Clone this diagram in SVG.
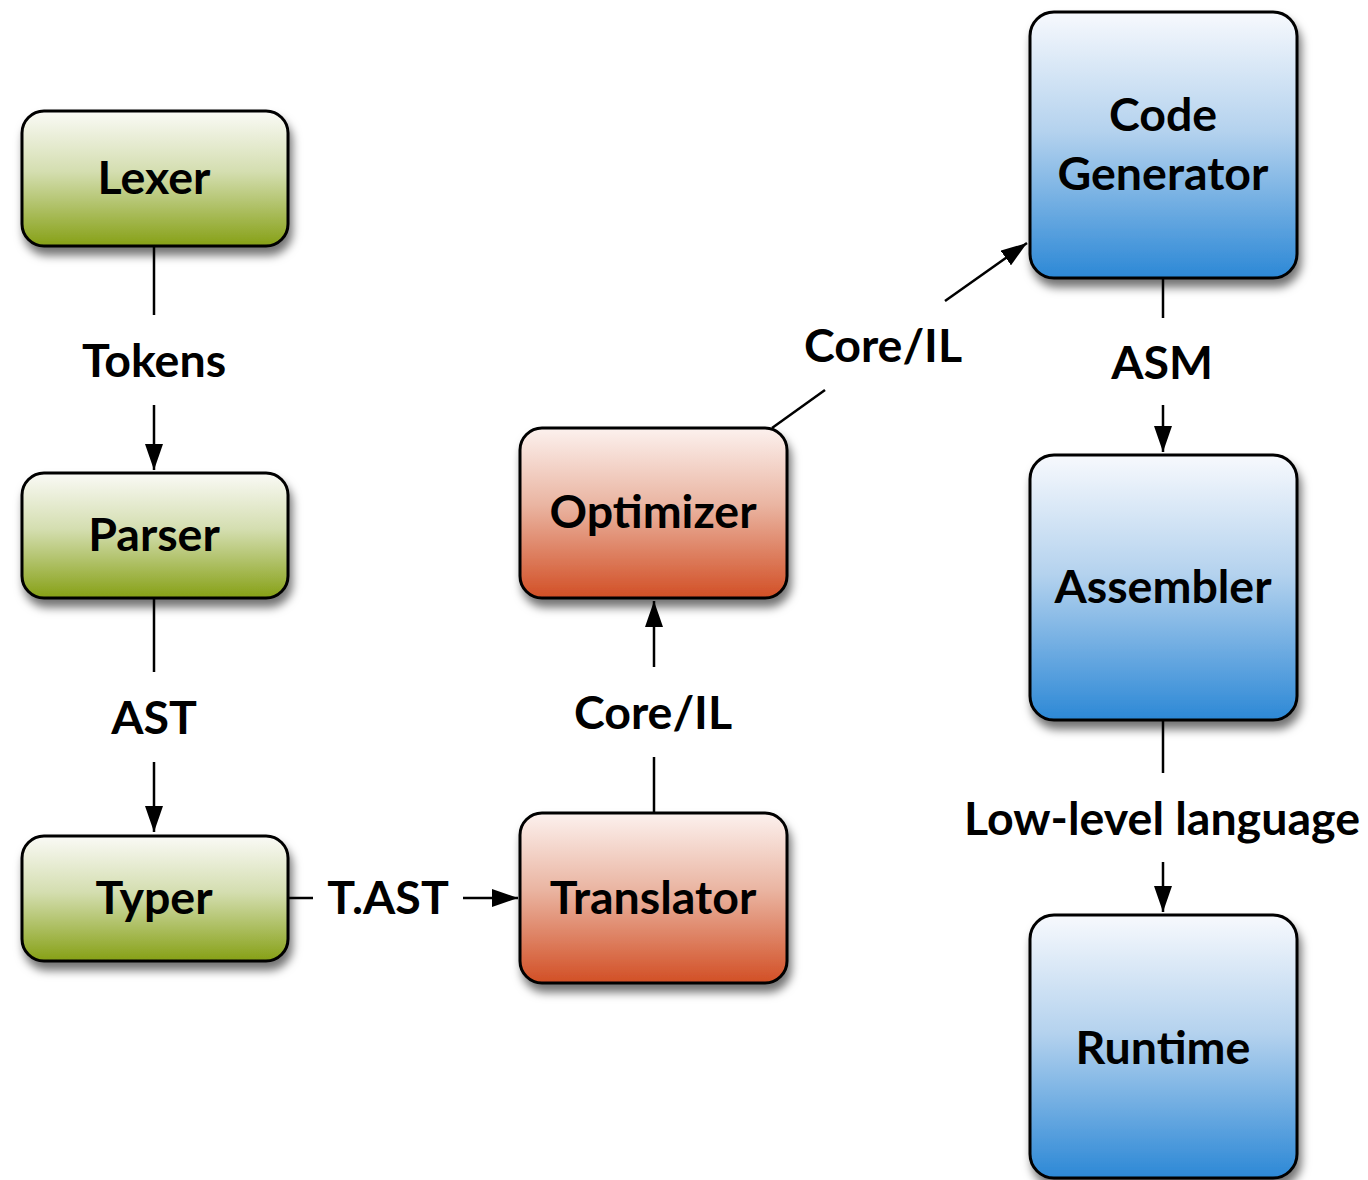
<svg xmlns="http://www.w3.org/2000/svg" width="1368" height="1180" viewBox="0 0 1368 1180">
<style>
.box{stroke:#000;stroke-width:3}
.t{font-family:Lato,"Open Sans","Noto Sans",sans-serif;font-weight:bold;font-size:46.5px;fill:#000;text-anchor:middle}
.c{stroke:#000;stroke-width:2.5;fill:none}
</style>
<defs>
<linearGradient id="gG" x1="0" y1="0" x2="0" y2="1"><stop offset="0" stop-color="#fafaf6"/><stop offset="0.45" stop-color="#d4deb0"/><stop offset="1" stop-color="#86a015"/></linearGradient>
<linearGradient id="gR" x1="0" y1="0" x2="0" y2="1"><stop offset="0" stop-color="#fcf1ee"/><stop offset="0.45" stop-color="#eab5a2"/><stop offset="1" stop-color="#d24f25"/></linearGradient>
<linearGradient id="gB" x1="0" y1="0" x2="0" y2="1"><stop offset="0" stop-color="#f7f9fd"/><stop offset="0.45" stop-color="#b4d2ee"/><stop offset="1" stop-color="#2c88d6"/></linearGradient>
<filter id="sh" x="-20%" y="-20%" width="140%" height="150%"><feDropShadow dx="3" dy="8" stdDeviation="5" flood-color="#000" flood-opacity="0.55"/></filter>
<marker id="ah" viewBox="0 0 26 18" refX="26" refY="9" markerWidth="26" markerHeight="18" markerUnits="userSpaceOnUse" orient="auto"><path d="M0,0 L26,9 L0,18 z" fill="#000"/></marker>
</defs>
<rect width="1368" height="1180" fill="#fff"/>
<g id="connectors">
<line class="c" x1="154" y1="246" x2="154" y2="315"/>
<line class="c" x1="154" y1="405" x2="154" y2="470" marker-end="url(#ah)"/>
<line class="c" x1="154" y1="598" x2="154" y2="672"/>
<line class="c" x1="154" y1="762" x2="154" y2="832" marker-end="url(#ah)"/>
<line class="c" x1="288" y1="898" x2="313" y2="898"/>
<line class="c" x1="463" y1="898" x2="518" y2="898" marker-end="url(#ah)"/>
<line class="c" x1="654" y1="813" x2="654" y2="757"/>
<line class="c" x1="654" y1="667" x2="654" y2="601" marker-end="url(#ah)"/>
<line class="c" x1="772" y1="428" x2="825" y2="390"/>
<line class="c" x1="945" y1="301" x2="1027" y2="243" marker-end="url(#ah)"/>
<line class="c" x1="1163" y1="278" x2="1163" y2="318"/>
<line class="c" x1="1163" y1="405" x2="1163" y2="452" marker-end="url(#ah)"/>
<line class="c" x1="1163" y1="720" x2="1163" y2="773"/>
<line class="c" x1="1163" y1="862" x2="1163" y2="912" marker-end="url(#ah)"/>
<text class="t" x="154" y="377">Tokens</text>
<text class="t" x="154" y="734">AST</text>
<text class="t" x="388" y="914">T.AST</text>
<text class="t" x="653" y="729">Core/IL</text>
<text class="t" x="883" y="362">Core/IL</text>
<text class="t" x="1162" y="379">ASM</text>
<text class="t" x="1162" y="835">Low-level language</text>
</g>
<g id="lexer"><rect class="box" x="22" y="111" width="266" height="135" rx="22" fill="url(#gG)" filter="url(#sh)"/><text class="t" x="154" y="194">Lexer</text></g>
<g id="parser"><rect class="box" x="22" y="473" width="266" height="125" rx="22" fill="url(#gG)" filter="url(#sh)"/><text class="t" x="154" y="551">Parser</text></g>
<g id="typer"><rect class="box" x="22" y="836" width="266" height="125" rx="22" fill="url(#gG)" filter="url(#sh)"/><text class="t" x="154" y="914">Typer</text></g>
<g id="translator"><rect class="box" x="520" y="813" width="267" height="170" rx="22" fill="url(#gR)" filter="url(#sh)"/><text class="t" x="653" y="914">Translator</text></g>
<g id="optimizer"><rect class="box" x="520" y="428" width="267" height="170" rx="22" fill="url(#gR)" filter="url(#sh)"/><text class="t" x="653" y="528">Optimizer</text></g>
<g id="codegen"><rect class="box" x="1030" y="12" width="267" height="266" rx="24" fill="url(#gB)" filter="url(#sh)"/><text class="t" x="1163" y="131">Code</text><text class="t" x="1163" y="190">Generator</text></g>
<g id="assembler"><rect class="box" x="1030" y="455" width="267" height="265" rx="24" fill="url(#gB)" filter="url(#sh)"/><text class="t" x="1163" y="603">Assembler</text></g>
<g id="runtime"><rect class="box" x="1030" y="915" width="267" height="263" rx="24" fill="url(#gB)" filter="url(#sh)"/><text class="t" x="1163" y="1064">Runtime</text></g>
</svg>
